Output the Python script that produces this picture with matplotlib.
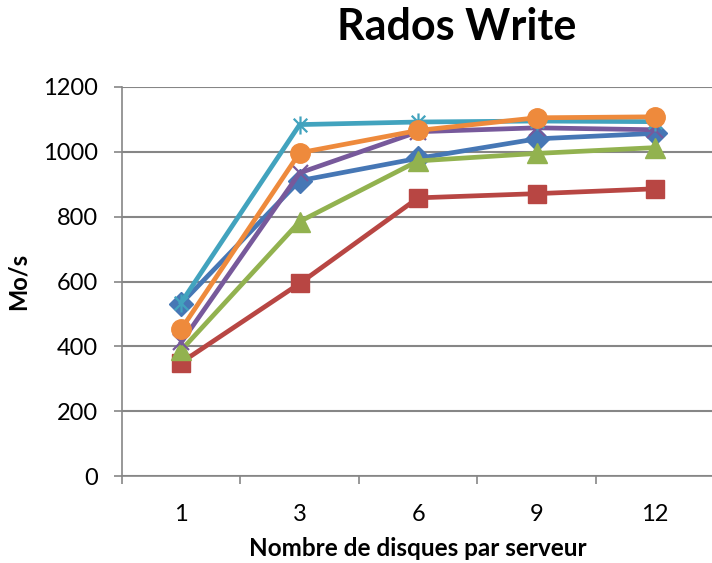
import matplotlib
matplotlib.use('Agg')
import matplotlib.pyplot as plt
from matplotlib.path import Path

# Données
disques = ['1', '3', '6', '9', '12']
serie_losange = [532, 911, 980, 1040, 1057]
serie_carre = [350, 594, 858, 871, 886]
serie_triangle = [388, 785, 972, 995, 1013]
serie_croix = [412, 935, 1062, 1074, 1068]
serie_etoile = [535, 1084, 1092, 1095, 1093]
serie_rond = [453, 997, 1066, 1105, 1108]

plt.rcParams['font.family'] = ['Lato', 'DejaVu Sans']

# marqueur étoile façon Excel (croix + trait vertical)
etoile = Path([(0, -1), (0, 1), (-0.75, -0.75), (0.75, 0.75), (-0.75, 0.75), (0.75, -0.75)],
              [Path.MOVETO, Path.LINETO, Path.MOVETO, Path.LINETO, Path.MOVETO, Path.LINETO])

fig = plt.figure(figsize=(7.12, 5.63), dpi=100)
ax = fig.add_axes([0.1713, 0.1545, 0.832, 0.691])

x = list(range(len(disques)))
lw = 3.4

ax.plot(x, serie_losange, color='#4677B5', lw=lw, marker='D', ms=12,
        mfc='#4677B5', mec='#4677B5', zorder=3)
ax.plot(x, serie_carre, color='#B84643', lw=lw, marker='s', ms=13,
        mfc='#B84643', mec='#B84643', zorder=4)
ax.plot(x, serie_triangle, color='#92B24F', lw=lw, marker='^', ms=14,
        mfc='#92B24F', mec='#92B24F', zorder=5)
ax.plot(x, serie_croix, color='#77599B', lw=lw, marker='x', ms=12,
        mew=1.6, mec='#77599B', zorder=6)
ax.plot(x, serie_etoile, color='#42A3BE', lw=lw, marker=etoile, ms=13,
        mew=1.6, mec='#42A3BE', mfc='none', zorder=7)
ax.plot(x, serie_rond, color='#EE8A3C', lw=lw, marker='o', ms=14,
        mfc='#EE8A3C', mec='#EE8A3C', zorder=8)

ax.set_xlim(-0.5, len(disques) - 0.5)
ax.set_ylim(0, 1200)
ax.set_yticks(range(0, 1201, 200))
ax.set_xticks(x)
ax.set_xticklabels(disques)
ax.set_xticks([i + 0.5 for i in range(-1, len(disques))], minor=True)

ax.grid(axis='y', color='#868686', lw=1.5)
ax.set_axisbelow(True)
for s in ['top', 'right']:
    ax.spines[s].set_visible(False)
for s in ['left', 'bottom']:
    ax.spines[s].set_color('#868686')
    ax.spines[s].set_linewidth(1.2)

ax.tick_params(axis='y', direction='out', length=6, width=1.2, color='#868686',
               labelsize=17, pad=11)
ax.tick_params(axis='x', which='major', length=0, labelsize=17, pad=20)
ax.tick_params(axis='x', which='minor', direction='out', length=6, width=1.2,
               color='#868686')

ax.set_ylabel('Mo/s', fontsize=17, fontweight='bold', labelpad=10)
ax.set_xlabel('Nombre de disques par serveur', fontsize=17.5, fontweight='bold', labelpad=9)

fig.text(0.642, 0.952, 'Rados Write', fontsize=31, fontweight='bold',
         ha='center', va='center')

plt.savefig('out.png', dpi=100)
